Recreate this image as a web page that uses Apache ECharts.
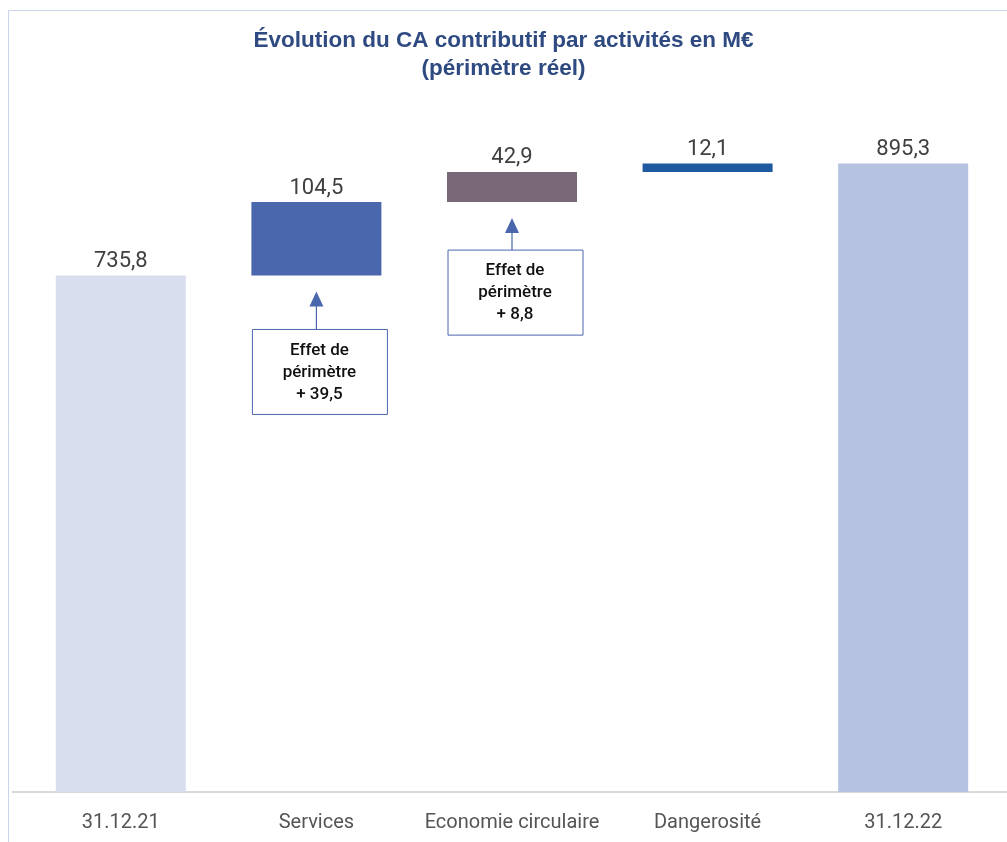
<!DOCTYPE html>
<html>
<head>
<meta charset="utf-8">
<script src="https://cdn.jsdelivr.net/npm/echarts@6/dist/echarts.min.js"></script>
<style>
  html, body { margin: 0; padding: 0; background: #fff; }
  #chart { width: 1007px; height: 842px; }
</style>
</head>
<body>
<div id="chart"></div>
<script>
const categories = ['31.12.21', 'Services', 'Economie circulaire', 'Dangerosité', '31.12.22']
const values = [735.8, 104.5, 42.9, 12.1, 895.3]
const isTotal = [true, false, false, false, true]
const barColors = ['#D8DEEE', '#4A67AE', '#786878', '#1F5AA0', '#B5C2E0']
const notes = [
  {cat: 'Services', text: 'Effet de\npérimètre\n+ 39,5', drop: 54},
  {cat: 'Economie circulaire', text: 'Effet de\npérimètre\n+ 8,8', drop: 48}
]

// invisible base for the waterfall
let run = 0
const bases = values.map((v, i) => {
  if (isTotal[i]) { run = v; return 0 }
  const b = run
  run += v
  return b
})

const fmt = v => String(v).replace('.', ',')

const chart = echarts.init(document.getElementById('chart'))

chart.setOption({
  animation: false,
  title: {
    text: 'Évolution du CA contributif par activités en M€\n(périmètre réel)',
    left: 'center',
    top: 22,
    textStyle: {
      fontFamily: 'Liberation Sans, Arial, sans-serif',
      fontSize: 22.5,
      fontWeight: 'bold',
      color: '#2E4A80',
      lineHeight: 28,
      align: 'center'
    }
  },
  grid: {left: 23, right: 6, top: 90, bottom: 50},
  xAxis: {
    type: 'category',
    data: categories,
    axisTick: {show: false},
    axisLine: {lineStyle: {color: '#D9D9D9', width: 2}},
    axisLabel: {
      interval: 0,
      margin: 21,
      fontFamily: 'Roboto, sans-serif',
      fontSize: 20,
      color: '#555'
    }
  },
  yAxis: {
    type: 'value',
    min: 0,
    max: 1000,
    show: false,
    splitLine: {show: false}
  },
  series: [
    {
      type: 'bar',
      stack: 'w',
      silent: true,
      itemStyle: {color: 'transparent'},
      data: bases
    },
    {
      type: 'bar',
      stack: 'w',
      barWidth: 130,
      data: values.map((v, i) => ({value: v, itemStyle: {color: barColors[i]}})),
      label: {
        show: true,
        position: 'top',
        distance: 3,
        fontFamily: 'Roboto, sans-serif',
        fontSize: 22,
        color: '#404040',
        formatter: p => fmt(p.value)
      }
    }
  ]
})

const graphics = [{
  type: 'rect',
  shape: {x: 8.5, y: 10.5, width: 1010, height: 850},
  style: {fill: 'none', stroke: '#C9D5E8', lineWidth: 1},
  silent: true
}]
const baseY = chart.convertToPixel({yAxisIndex: 0}, 0)
graphics.push({
  type: 'line',
  shape: {x1: 12, y1: baseY, x2: 1007, y2: baseY},
  style: {stroke: '#D9D9D9', lineWidth: 2},
  z: -1
})
// annotation boxes under the two perimeter bars
notes.forEach(n => {
  const i = categories.indexOf(n.cat)
  const [cx, bottom] = chart.convertToPixel({gridIndex: 0}, [i, bases[i]])
  const tipY = bottom + 16
  const boxTop = bottom + n.drop
  graphics.push({
    type: 'polygon',
    shape: {points: [[cx, tipY], [cx - 7, tipY + 15], [cx + 7, tipY + 15]]},
    style: {fill: '#4A67AE'}
  })
  graphics.push({
    type: 'line',
    shape: {x1: cx, y1: tipY + 14, x2: cx, y2: boxTop},
    style: {stroke: '#4A67AE', lineWidth: 1.2}
  })
  graphics.push({
    type: 'rect',
    shape: {x: cx - 64, y: boxTop, width: 135, height: 85},
    style: {fill: '#fff', stroke: '#4A67AE', lineWidth: 1}
  })
  graphics.push({
    type: 'text',
    x: cx + 3,
    y: boxTop + 43,
    style: {
      text: n.text,
      align: 'center',
      verticalAlign: 'middle',
      fontFamily: 'Roboto, sans-serif',
      fontSize: 17,
      fontWeight: 500,
      lineHeight: 22,
      fill: '#111'
    }
  })
})
chart.setOption({graphic: graphics})
</script>
</body>
</html>
